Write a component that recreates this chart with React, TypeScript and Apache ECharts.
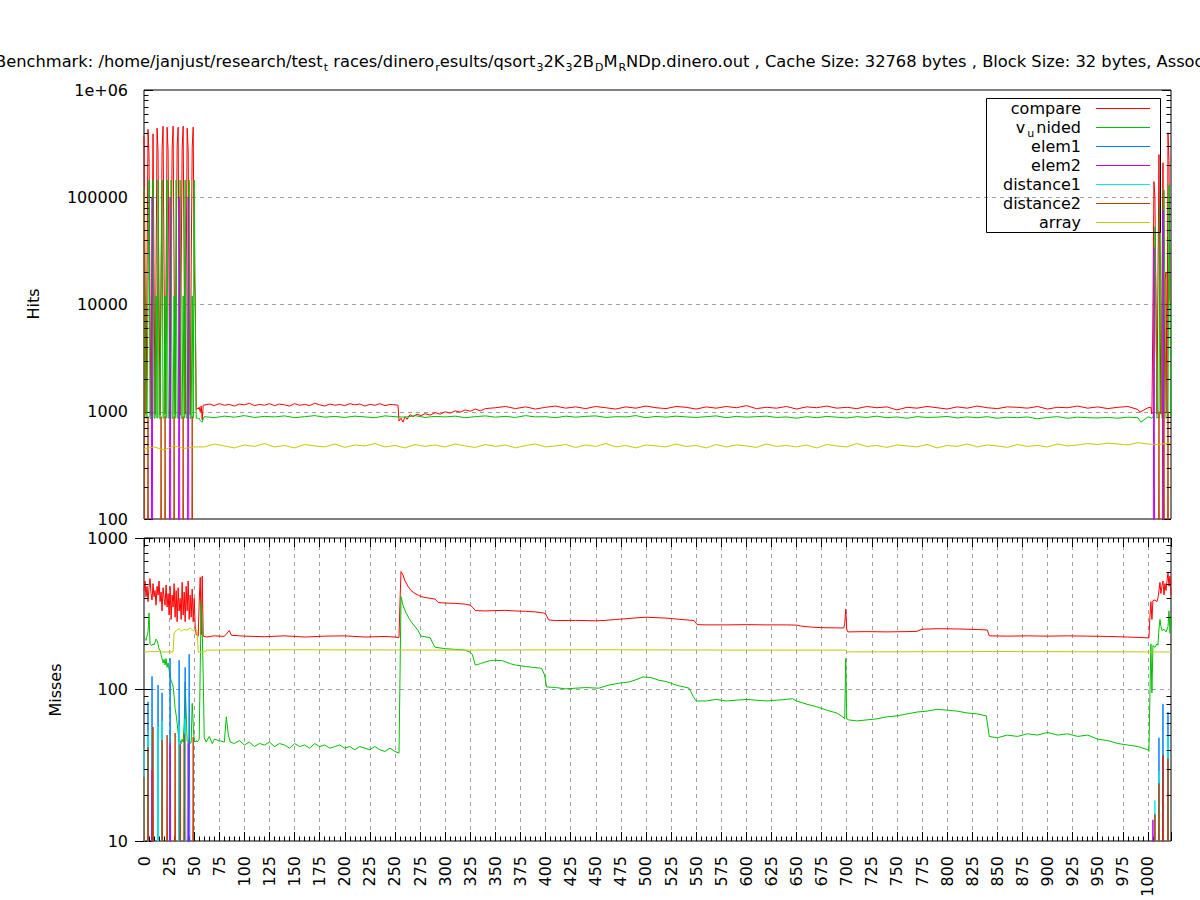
import React, { useEffect, useRef } from "react";
import * as echarts from "echarts";

const FONT = "DejaVu Sans";
const seriesNames = ["compare", "v_unided", "elem1", "elem2", "distance1", "distance2", "array"];
const seriesColors = ["#ff0000", "#00c000", "#0080ff", "#c000ff", "#00eeee", "#c04000", "#c8c800"];
const legendRich = ["{n|compare}", "{n|v}{s|u}{n|nided}", "{n|elem1}", "{n|elem2}", "{n|distance1}", "{n|distance2}", "{n|array}"];
const titleParts: [string, string][] = [
  ["t", "Benchmark: /home/janjust/research/test"], ["u", "t"], ["t", " races/dinero"], ["u", "r"],
  ["t", "esults/qsort"], ["u", "3"], ["t", "2K"], ["u", "3"], ["t", "2B"], ["u", "D"], ["t", "M"], ["u", "R"],
  ["t", "NDp.dinero.out , Cache Size: 32768 bytes , Block Size: 32 bytes, Associativity: 1"],
];

// ---------------- Hits (top panel) ----------------
const hitsCompareStart = [370000, 20000, 950, 19000, 430000, 250000, 10000, 920, 21000, 390000, 18000, 940, 20000, 440000, 260000, 11000, 930, 22000, 280000, 460000, 19000, 950, 20000, 450000, 270000, 12000, 920, 21000, 280000, 460000, 19000, 940, 22000, 300000, 450000, 13000, 930, 20000, 280000, 460000, 21000, 950, 18000, 440000, 270000, 12000, 940, 22000, 290000, 450000, 21000, 11000, 1050, 1080, 1060, 1100, 1000];
const hitsComparePairs = [[57, 1130], [58, 840], [59, 1150], [65, 1180], [70, 1140], [75, 1190], [80, 1150], [85, 1170], [90, 1130], [95, 1180], [100, 1160], [105, 1200], [110, 1140], [115, 1170], [120, 1150], [125, 1190], [130, 1140], [135, 1180], [140, 1160], [145, 1130], [150, 1190], [155, 1150], [160, 1170], [165, 1140], [170, 1200], [175, 1160], [180, 1130], [185, 1180], [190, 1150], [195, 1170], [200, 1140], [205, 1190], [210, 1160], [215, 1180], [220, 1130], [225, 1170], [230, 1150], [235, 1190], [240, 1140], [245, 1170], [250, 1160], [253, 1150], [254, 820], [256, 870], [258, 800], [260, 900], [262, 850], [265, 940], [268, 900], [272, 950], [276, 920], [280, 960], [285, 930], [290, 980], [295, 950], [300, 1000], [305, 970], [310, 1020], [315, 990], [320, 1040], [325, 1010], [330, 1060], [335, 1020], [340, 1070], [992, 990]];
const hitsCompareTail = [1090, 1120, 1070, 1110, 1060, 1100, 1130, 1080, 1110, 1070, 1120, 1090, 1060, 1110, 1080, 1130, 1090, 1070, 1120, 1100, 1060, 1110, 1080, 1120, 1090, 1140, 1070, 1100, 1080, 1120, 1060, 1110, 1090, 1130, 1080, 1100, 1070, 1120, 1090, 1110, 1040, 1100, 1080, 1120, 1090, 1060, 1110, 1080, 1130, 1090, 1070, 1110, 1100, 1080, 1120, 1060, 1100, 1090, 1130, 1080, 1110, 1070, 1100, 1120, 1050, 1090];
const hitsCompareEnd = [[1003, 1100], [1004, 950], [1005, 8900], [1006, 140000], [1007, 98000], [1008, 12000], [1009, 950], [1010, 16000], [1011, 250000], [1012, 12000], [1013, 950], [1014, 12000], [1015, 210000], [1016, 1000], [1017, 17000], [1018, 20000], [1019, 980], [1020, 400000], [1021, 220000], [1022, 11000], [1023, 10000]];

const hitsUnidedStart = [120000, 12000, 870, 880, 12000, 145000, 870, 860, 12000, 145000, 880, 870, 12000, 870, 145000, 880, 860, 12000, 145000, 870, 880, 12000, 870, 145000, 880, 870, 12000, 145000, 860, 880, 12000, 870, 145000, 880, 870, 12000, 145000, 860, 880, 12000, 870, 145000, 880, 870, 12000, 145000, 860, 880, 12000, 870, 145000, 12000, 870, 880, 860, 870, 830];
const hitsUnidedPairs = [[57, 810], [58, 800], [59, 860], [993, 800]];
const hitsUnidedTail = [900, 880, 910, 890, 920, 885, 905, 895, 915, 880, 900, 920, 890, 905, 885, 910, 895, 880, 915, 900, 890, 920, 885, 905, 895, 910, 880, 900, 915, 890, 905, 885, 920, 895, 900, 880, 910, 890, 905, 915, 885, 900, 895, 920, 880, 905, 890, 910, 895, 885, 900, 915, 880, 905, 890, 900, 910, 885, 895, 870, 900, 880, 905, 890, 875, 900, 885, 910, 880, 895, 870, 900, 885, 890, 905, 875, 895, 880, 900, 870, 890, 880, 895, 860, 885, 900, 870, 890, 880, 875, 885, 870, 890, 880, 895];
const hitsUnidedEnd = [[1003, 880], [1004, 870], [1005, 900], [1006, 880], [1007, 53000], [1008, 9000], [1009, 870], [1010, 890], [1011, 880], [1012, 85000], [1013, 9000], [1014, 870], [1015, 880], [1016, 117000], [1017, 9000], [1018, 870], [1019, 880], [1020, 890], [1021, 130000], [1022, 9000], [1023, 870]];

const hitsElem1 = [[0, 1], [1023, 1]];
const hitsElem2 = [[0, 1], [7, 1], [8, 100000], [9, 1], [25, 1], [26, 100000], [27, 1], [34, 1], [35, 100000], [36, 1], [43, 1], [44, 100000], [45, 1], [1005, 1], [1006, 34000], [1007, 1], [1014, 1], [1015, 76000], [1016, 1], [1023, 1]];
const hitsDistance1 = [[0, 1], [1023, 1]];
const hitsDistance2 = [[0, 110000], [1, 1], [3, 1], [4, 900], [5, 1], [16, 1], [17, 900], [18, 1], [20, 1], [21, 900], [22, 1], [29, 1], [30, 900], [31, 1], [38, 1], [39, 900], [40, 1], [47, 1], [48, 900], [49, 1], [1010, 1], [1011, 1000], [1012, 1], [1015, 1], [1016, 1000], [1017, 1], [1019, 1], [1020, 1000], [1021, 1]];
const hitsArray = [450, 470, 440, 480, 455, 470, 470, 500, 480, 460, 490, 475, 505, 470, 485, 460, 495, 480, 470, 500, 465, 490, 480, 505, 470, 485, 460, 495, 475, 490, 470, 500, 480, 465, 495, 475, 490, 460, 485, 500, 470, 480, 495, 465, 490, 475, 505, 470, 485, 460, 490, 480, 470, 500, 475, 485, 460, 495, 470, 490, 480, 465, 500, 475, 485, 470, 490, 460, 495, 480, 470, 505, 475, 485, 465, 490, 480, 470, 495, 460, 485, 475, 500, 470, 490, 480, 465, 495, 475, 485, 470, 500, 480, 490, 505, 495, 510, 500, 490, 515, 500, 495, 510];
const hitsArrayEnd = [[1023, 500]];

// ---------------- Misses (bottom panel) ----------------
const missCompareStart = [450, 520, 410, 480, 380, 470, 540, 430, 390, 500, 410, 450, 360, 480, 420, 520, 380, 440, 330, 470, 400, 360, 490, 350, 430, 310, 480, 290, 420, 350, 500, 300, 450, 280, 470, 330, 400, 290, 510, 310, 440, 280, 480, 330, 520, 290, 420, 300, 460, 280, 400, 260, 230, 230, 225, 380, 550, 230, 560];
const missComparePairs = [[59, 225], [62, 222], [70, 226], [80, 224], [85, 245], [87, 228], [100, 225], [120, 223], [140, 226], [160, 222], [180, 225], [200, 226], [220, 222], [240, 224], [250, 222], [254, 220], [255, 380], [256, 600], [258, 570], [260, 520], [263, 480], [266, 450], [270, 430], [273, 420], [276, 410], [280, 405], [285, 400], [290, 395], [293, 375], [300, 372], [310, 370], [320, 366], [325, 360], [328, 345], [330, 332], [340, 330], [350, 332], [360, 333], [370, 330], [380, 328], [390, 325], [398, 320], [400, 316], [403, 288], [410, 285], [430, 286], [450, 284], [460, 286], [470, 290], [480, 293], [490, 297], [500, 300], [510, 298], [520, 296], [535, 290], [548, 285], [551, 268], [560, 267], [580, 267], [600, 268], [620, 267], [640, 267], [650, 266], [655, 262], [665, 258], [675, 256], [690, 255], [697, 255], [698, 270], [699, 340], [700, 250], [701, 240], [720, 241], [740, 240], [760, 241], [770, 242], [775, 250], [790, 252], [810, 251], [830, 249], [840, 247], [842, 226], [860, 225], [880, 226], [900, 225], [920, 226], [940, 225], [960, 224], [980, 222], [995, 220], [1001, 219], [1002, 300], [1003, 380], [1004, 290], [1005, 385], [1007, 390], [1009, 380], [1010, 400], [1011, 450], [1012, 510], [1013, 430], [1014, 480], [1015, 520], [1016, 420], [1017, 500], [1018, 450], [1019, 520], [1020, 590], [1021, 480], [1022, 560], [1023, 420]];

const missUnidedStart = [222, 215, 211, 225, 240, 320, 200, 197, 195, 200, 197, 205, 215, 210, 200, 185, 182, 170, 160, 150, 158, 145, 160, 140, 150, 135, 122, 115, 110, 104, 90, 75, 68, 60, 52, 45, 46, 44, 47, 45, 60, 112, 70, 46, 45, 47, 44, 45, 81, 60, 46, 45];
const missUnidedPairs = [[52, 46], [53, 45], [55, 47], [56, 140], [57, 380], [58, 250], [59, 120], [60, 48], [62, 45], [65, 49], [68, 44], [70, 47], [75, 46], [80, 45], [82, 66], [84, 50], [86, 45], [90, 44], [95, 46], [100, 43], [105, 45], [110, 42], [115, 44], [120, 43], [125, 45], [130, 42], [135, 44], [140, 43], [145, 41], [150, 44], [155, 42], [160, 43], [165, 41], [170, 44], [175, 42], [180, 43], [185, 41], [190, 42], [195, 43], [200, 41], [205, 42], [210, 40], [215, 42], [220, 41], [225, 40], [230, 42], [235, 40], [240, 39], [245, 41], [250, 39], [254, 38], [255, 120], [256, 410], [258, 360], [261, 320], [264, 295], [266, 280], [270, 260], [273, 245], [276, 225], [285, 220], [288, 200], [290, 190], [300, 186], [310, 184], [320, 182], [325, 176], [327, 170], [330, 145], [335, 148], [340, 152], [345, 155], [350, 156], [357, 155], [365, 148], [370, 145], [380, 142], [387, 140], [396, 138], [399, 125], [401, 104], [410, 103], [420, 101], [430, 102], [440, 103], [453, 102], [463, 107], [473, 110], [483, 112], [490, 116], [497, 121], [505, 120], [513, 115], [520, 113], [530, 107], [543, 102], [547, 90], [550, 84], [560, 84], [570, 86], [580, 84], [590, 85], [600, 86], [610, 85], [620, 84], [630, 85], [640, 86], [646, 87], [650, 84], [660, 80], [670, 77], [680, 73], [690, 70], [696, 66], [698, 64], [699, 160], [700, 64], [702, 63], [710, 62], [720, 63], [730, 64], [740, 66], [750, 67], [760, 69], [770, 71], [780, 72], [790, 74], [800, 73], [810, 72], [820, 70], [830, 69], [839, 67], [842, 49], [850, 48], [860, 50], [870, 49], [880, 51], [890, 50], [900, 52], [910, 50], [920, 51], [930, 49], [940, 50], [950, 47], [960, 46], [970, 44], [980, 43], [990, 42], [1000, 40], [1001, 39], [1002, 90], [1003, 200], [1004, 95], [1005, 195], [1007, 190], [1009, 200], [1010, 196], [1011, 250], [1012, 290], [1013, 260], [1014, 245], [1016, 250], [1018, 240], [1020, 260], [1021, 330], [1022, 235], [1023, 300]];

const missElem1 = [[0, 1], [3, 1], [4, 83], [5, 1], [7, 1], [8, 122], [9, 1], [13, 1], [14, 107], [15, 1], [17, 1], [18, 95], [19, 1], [25, 1], [26, 161], [27, 1], [34, 1], [35, 156], [36, 1], [40, 1], [41, 140], [42, 1], [44, 1], [45, 171], [46, 1], [1010, 1], [1011, 48], [1012, 1], [1014, 1], [1015, 80], [1016, 1], [1019, 1], [1020, 71], [1021, 1]];
const missElem2 = [[0, 1], [7, 1], [8, 29.5], [9, 1], [25, 1], [26, 44.6], [27, 1], [35, 1], [36, 44], [37, 1], [43, 1], [44, 44.6], [45, 1], [1004, 1], [1005, 13.8], [1006, 1], [1014, 1], [1015, 36], [1016, 1]];
const missDistance1 = [[0, 41], [1, 1], [3, 1], [4, 52], [5, 1], [13, 1], [14, 57], [15, 1], [17, 1], [18, 62], [19, 1], [34, 1], [35, 58], [36, 1], [40, 1], [41, 64], [42, 1], [1006, 1], [1007, 18.5], [1008, 1], [1010, 1], [1011, 29], [1012, 1], [1019, 1], [1020, 50], [1021, 1]];
const missDistance2 = [[0, 26.5], [1, 1], [3, 1], [4, 41.7], [5, 1], [8, 1], [9, 56.5], [10, 1], [17, 1], [18, 46.4], [19, 1], [22, 1], [23, 50], [24, 1], [30, 1], [31, 51.6], [32, 1], [35, 1], [36, 43], [37, 1], [39, 1], [40, 51], [41, 1], [48, 1], [49, 48.5], [50, 1], [1006, 1], [1007, 15], [1008, 1], [1010, 1], [1011, 24], [1012, 1], [1014, 1], [1015, 37], [1016, 1], [1019, 1], [1020, 35], [1021, 1]];
const missArray = [[0, 177], [10, 178], [20, 177], [29, 177], [30, 235], [32, 245], [35, 252], [38, 242], [40, 250], [43, 246], [46, 255], [49, 244], [52, 250], [53, 240], [54, 177], [61, 177], [62, 182], [150, 183], [300, 182], [450, 183], [600, 182], [699, 182], [700, 177], [850, 178], [1000, 177], [1023, 177]];

// log minor tick positions
const minorMultipliers = [2, 3, 4, 5, 6, 7, 8, 9];
const hitsDecades = [100, 1000, 10000, 100000];
const missDecades = [10, 100];

const fromStart = (vals: number[], x0 = 0, step = 1) => vals.map((v, i) => [x0 + i * step, v]);
const merge = (...parts: number[][][]) => parts.flat().slice().sort((a, b) => a[0] - b[0]);

const topData = [
  merge(fromStart(hitsCompareStart), hitsComparePairs, fromStart(hitsCompareTail, 350, 10), hitsCompareEnd),
  merge(fromStart(hitsUnidedStart), hitsUnidedPairs, fromStart(hitsUnidedTail, 60, 10), hitsUnidedEnd),
  hitsElem1,
  hitsElem2,
  hitsDistance1,
  hitsDistance2,
  merge(fromStart(hitsArray, 0, 10), hitsArrayEnd),
];
const botData = [
  merge(fromStart(missCompareStart), missComparePairs),
  merge(fromStart(missUnidedStart), missUnidedPairs),
  missElem1,
  missElem2,
  missDistance1,
  missDistance2,
  missArray,
];

const gridLine = { color: "#a0a0a0", type: [4, 4], width: 1 };
const tickStyle = { color: "#000", width: 1 };
const fmt = (v: number) => (v >= 999999 ? "1e+06" : String(Math.round(v)));

function minorSeries(decades: number[], xi: number, yi: number) {
  const data: number[][] = [];
  decades.forEach((d) => minorMultipliers.forEach((m) => data.push([0, d * m])));
  return {
    type: "custom",
    xAxisIndex: xi,
    yAxisIndex: yi,
    silent: true,
    z: 5,
    encode: { x: 0, y: 1 },
    data,
    renderItem: (params: any, api: any) => {
      const cs = params.coordSys;
      const y = Math.round(api.coord([0, api.value(1)])[1]) + 0.5;
      return {
        type: "group",
        children: [
          { type: "line", shape: { x1: cs.x, y1: y, x2: cs.x + 4.5, y2: y }, style: { stroke: "#000", lineWidth: 1 } },
          { type: "line", shape: { x1: cs.x + cs.width - 4.5, y1: y, x2: cs.x + cs.width, y2: y }, style: { stroke: "#000", lineWidth: 1 } },
        ],
      };
    },
  };
}

function lineSeries(data: number[][], i: number, xi: number, yi: number) {
  return {
    type: "line",
    name: seriesNames[i],
    xAxisIndex: xi,
    yAxisIndex: yi,
    data,
    showSymbol: false,
    symbol: "none",
    silent: true,
    clip: true,
    z: 2,
    lineStyle: { width: 1, color: seriesColors[i] },
    itemStyle: { color: seriesColors[i] },
  };
}

const legendRichStyles = {
  n: { fontSize: 16, fontFamily: FONT, fill: "#000", color: "#000", lineHeight: 18 },
  s: { fontSize: 11, fontFamily: FONT, fill: "#000", color: "#000", lineHeight: 10, padding: [11, 2, 0, 2] },
};
const titleRichStyles = {
  t: { fontSize: 16.3, fontFamily: FONT, fill: "#000", color: "#000", lineHeight: 20 },
  u: { fontSize: 11, fontFamily: FONT, fill: "#000", color: "#000", lineHeight: 11, padding: [13, 0, 0, 1] },
};

function buildOption() {
  const graphic: any[] = [];
  graphic.push({
    type: "text",
    x: -5,
    y: 61,
    z: 10,
    style: {
      text: titleParts.map(([k, t]) => `{${k}|${t}}`).join(""),
      rich: titleRichStyles,
      align: "left",
      verticalAlign: "middle",
      textAlign: "left",
      textVerticalAlign: "middle",
    },
  });
  graphic.push({
    type: "text", x: 33, y: 304, rotation: Math.PI / 2, z: 10,
    style: { text: "Hits", fontSize: 16, fontFamily: FONT, fill: "#000", align: "center", verticalAlign: "middle", textAlign: "center", textVerticalAlign: "middle" },
  });
  graphic.push({
    type: "text", x: 55, y: 690, rotation: Math.PI / 2, z: 10,
    style: { text: "Misses", fontSize: 16, fontFamily: FONT, fill: "#000", align: "center", verticalAlign: "middle", textAlign: "center", textVerticalAlign: "middle" },
  });
  graphic.push({
    type: "rect", z: 10,
    shape: { x: 986.5, y: 98.5, width: 174, height: 134 },
    style: { fill: "none", stroke: "#000", lineWidth: 1 },
  });
  legendRich.forEach((t, i) => {
    const y = 108.5 + 19 * i;
    graphic.push({
      type: "text", x: 1081, y, z: 10,
      style: { text: t, rich: legendRichStyles, align: "right", verticalAlign: "middle", textAlign: "right", textVerticalAlign: "middle" },
    });
    graphic.push({
      type: "line", z: 10,
      shape: { x1: 1096, y1: y, x2: 1150, y2: y },
      style: { stroke: seriesColors[i], lineWidth: 1 },
    });
  });

  const series: any[] = [];
  topData.forEach((d, i) => series.push(lineSeries(d, i, 0, 0)));
  botData.forEach((d, i) => series.push(lineSeries(d, i, 1, 2)));
  series.push(minorSeries(hitsDecades, 0, 0));
  series.push(minorSeries(missDecades, 1, 2));

  const xTicks = { show: true, inside: true, length: 9, lineStyle: tickStyle };
  const xMinor = { show: true, splitNumber: 5, length: 4.5, lineStyle: tickStyle };

  return {
    animation: false,
    backgroundColor: "#fff",
    textStyle: { fontFamily: FONT },
    grid: [
      { left: 144, top: 90, width: 1027, height: 429, show: true, borderColor: "#000", borderWidth: 1, backgroundColor: "transparent" },
      { left: 144, top: 538, width: 1027, height: 303, show: true, borderColor: "#000", borderWidth: 1, backgroundColor: "transparent" },
    ],
    xAxis: [
      { gridIndex: 0, type: "value", min: 0, max: 1023, axisLine: { show: false }, axisTick: { show: false }, axisLabel: { show: false }, splitLine: { show: false } },
      {
        gridIndex: 1, type: "value", min: 0, max: 1023, interval: 25, position: "bottom",
        axisLine: { show: false }, axisTick: xTicks, minorTick: xMinor,
        axisLabel: { rotate: 90, fontSize: 16, fontFamily: FONT, color: "#000", margin: 15, showMaxLabel: false, padding: [0, 0, 6, 0], formatter: (v: number) => String(v) },
        splitLine: { show: true, showMinLine: false, showMaxLine: false, lineStyle: gridLine },
      },
      {
        gridIndex: 1, type: "value", min: 0, max: 1023, interval: 25, position: "top",
        axisLine: { show: false }, axisTick: xTicks, minorTick: xMinor, axisLabel: { show: false }, splitLine: { show: false },
      },
    ],
    yAxis: [
      {
        gridIndex: 0, type: "log", logBase: 10, min: 100, max: 1000000, splitNumber: 4, position: "left",
        axisLine: { show: false }, axisTick: { show: true, inside: true, length: 9, lineStyle: tickStyle },
        axisLabel: { formatter: fmt, fontSize: 16, fontFamily: FONT, color: "#000", margin: 16 },
        splitLine: { show: true, showMinLine: false, showMaxLine: false, lineStyle: gridLine },
      },
      {
        gridIndex: 0, type: "log", logBase: 10, min: 100, max: 1000000, splitNumber: 4, position: "right",
        axisLine: { show: false }, axisTick: { show: true, inside: true, length: 9, lineStyle: tickStyle },
        axisLabel: { show: false }, splitLine: { show: false },
      },
      {
        gridIndex: 1, type: "log", logBase: 10, min: 10, max: 1000, splitNumber: 2, position: "left",
        axisLine: { show: false }, axisTick: { show: true, inside: true, length: 9, lineStyle: tickStyle },
        axisLabel: { formatter: fmt, fontSize: 16, fontFamily: FONT, color: "#000", margin: 16 },
        splitLine: { show: true, showMinLine: false, showMaxLine: false, lineStyle: gridLine },
      },
      {
        gridIndex: 1, type: "log", logBase: 10, min: 10, max: 1000, splitNumber: 2, position: "right",
        axisLine: { show: false }, axisTick: { show: true, inside: true, length: 9, lineStyle: tickStyle },
        axisLabel: { show: false }, splitLine: { show: false },
      },
    ],
    series,
    graphic,
  };
}

export default function App() {
  const ref = useRef<HTMLDivElement>(null);
  useEffect(() => {
    document.body.style.margin = "0";
    const chart = echarts.init(ref.current as HTMLDivElement, null, { renderer: "svg" });
    chart.setOption(buildOption() as any);
    return () => chart.dispose();
  }, []);
  return <div ref={ref} style={{ width: 1200, height: 900 }} />;
}
